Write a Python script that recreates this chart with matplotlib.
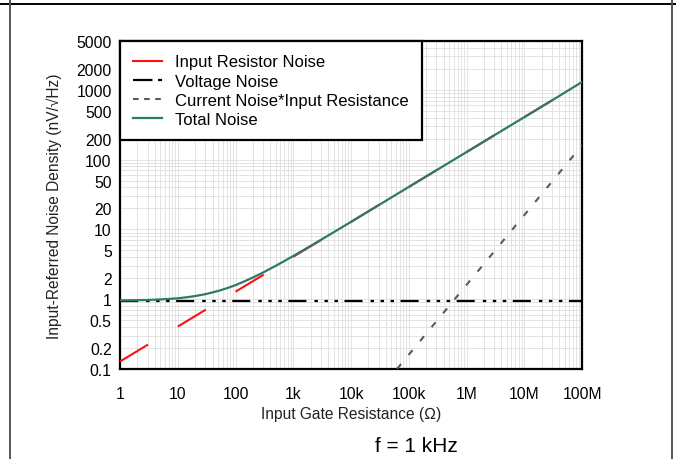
import matplotlib
matplotlib.use('Agg')
import matplotlib.pyplot as plt
from matplotlib.lines import Line2D
from matplotlib.ticker import FixedLocator, LogLocator, NullFormatter

plt.rcParams['font.family'] = ['Liberation Sans', 'DejaVu Sans']
plt.rcParams['lines.scale_dashes'] = False

# values
res_r = [1, 1e8]
res_noise = [0.128, 1283]

volt_r = [1, 1e8]
volt_noise = [0.95, 0.95]

cur_r = [1e4, 1e8]
cur_noise = [0.016, 160]

tot_r = [1, 2, 3, 5, 7, 10, 15, 20, 30, 50, 70, 100, 150, 200, 300, 500, 700,
         1e3, 2e3, 3e3, 5e3, 1e4, 3e4, 1e5, 3e5, 1e6, 3e6, 1e7, 3e7, 1e8]
tot_noise = [0.96, 0.967, 0.975, 0.992, 1.009, 1.03, 1.072, 1.109, 1.18, 1.312,
             1.431, 1.59, 1.833, 2.044, 2.41, 3.015, 3.517,
             4.16, 5.80, 7.07, 9.10, 12.8, 22.2, 40.5, 70.2, 128, 222, 405, 702, 1293]

xticks = [1, 10, 100, 1e3, 1e4, 1e5, 1e6, 1e7, 1e8]
xlabels = ['1', '10', '100', '1k', '10k', '100k', '1M', '10M', '100M']
yticks = [0.1, 0.2, 0.5, 1, 2, 5, 10, 20, 50, 100, 200, 500, 1000, 2000, 5000]
ylabels = ['0.1', '0.2', '0.5', '1', '2', '5', '10', '20', '50', '100', '200',
           '500', '1000', '2000', '5000']

fig = plt.figure(figsize=(6.76, 4.60), dpi=100)
ax = fig.add_axes([120/676, 1 - 370/460, 462/676, 328/460])

red_dash = (0, (23.6, 25.0))
volt_dash = (0, (13, 5.8, 2.5, 4.7, 2.5, 4.7, 2.5, 4.7))
cur_dash = (0, (4.5, 8.5))
teal = '#2e7a6a'

ax.plot(res_r, res_noise, color='#ff1010', lw=1.5, linestyle=red_dash, zorder=3)
ax.plot(volt_r, volt_noise, color='black', lw=1.6, linestyle=volt_dash, zorder=3)
ax.plot(cur_r, cur_noise, color='#4d5e5c', lw=1.5, linestyle=cur_dash, zorder=3)
ax.plot(tot_r, tot_noise, color=teal, lw=1.6, zorder=4)

ax.set_xscale('log')
ax.set_yscale('log')
ax.set_xlim(1, 1e8)
ax.set_ylim(0.1, 5000)

ax.xaxis.set_major_locator(FixedLocator(xticks))
ax.set_xticklabels(xlabels)
ax.yaxis.set_major_locator(FixedLocator(yticks))
ax.set_yticklabels(ylabels)
ax.xaxis.set_minor_locator(LogLocator(base=10, subs=range(2, 10), numticks=20))
ax.yaxis.set_minor_locator(LogLocator(base=10, subs=range(2, 10), numticks=20))
ax.xaxis.set_minor_formatter(NullFormatter())
ax.yaxis.set_minor_formatter(NullFormatter())
ax.tick_params(which='both', length=0)
ax.tick_params(axis='x', pad=12, labelsize=11.3)
ax.tick_params(axis='y', pad=6, labelsize=11.3)
ax.grid(True, which='both', color='#dedede', lw=0.6)
ax.set_axisbelow(True)
for s in ax.spines.values():
    s.set_linewidth(1.6)

ax.set_xlabel('Input Gate Resistance (\u2126)', fontsize=11.2, color='#222222', labelpad=4)
ax.set_ylabel('Input-Referred Noise Density (nV/\u221aHz)', fontsize=11.2, color='#222222', labelpad=10)

handles = [
    Line2D([], [], color='#ff1010', lw=1.5),
    Line2D([], [], color='black', lw=1.6, linestyle=(0, (14, 4, 5, 4))),
    Line2D([], [], color='#4d5e5c', lw=1.5, linestyle=(0, (4, 4))),
    Line2D([], [], color=teal, lw=1.6),
]
names = ['Input Resistor Noise', 'Voltage Noise', 'Current Noise*Input Resistance', 'Total Noise']
leg = ax.legend(handles, names, loc='upper left', bbox_to_anchor=(0, 1), borderaxespad=0,
                fontsize=12, fancybox=False, framealpha=1, edgecolor='black',
                handlelength=1.7, handletextpad=0.8, labelspacing=0.25,
                borderpad=0.8)
leg.get_frame().set_linewidth(1.6)
leg.set_zorder(10)

fig.text(416/676, 1 - 447/460, 'f = 1 kHz', fontsize=15, ha='center', va='center')

# page frame lines
fig.add_artist(Line2D([0, 1], [1 - 5/460, 1 - 5/460], color='black', lw=1.4))
fig.add_artist(Line2D([10/676, 10/676], [0, 1], color='#555555', lw=1.4))
fig.add_artist(Line2D([672/676, 672/676], [0, 1], color='#555555', lw=1.4))

fig.savefig('out.png', dpi=100)
